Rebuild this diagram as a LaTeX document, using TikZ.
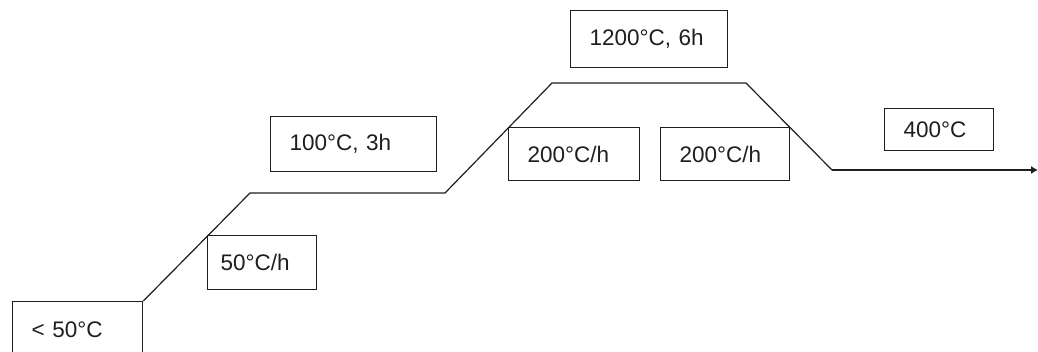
\documentclass[tikz,border=0pt]{standalone}
\usepackage{fontspec}
\setmainfont{Liberation Sans}
\usetikzlibrary{arrows.meta}
\definecolor{ink}{RGB}{30,30,30}
\tikzset{
  lbl/.style={draw=ink, line width=1.3pt, anchor=north west, align=left,
    inner ysep=0pt, inner xsep=19pt, text=ink,
    font=\fontsize{22.5}{26}\selectfont},
  profile/.style={draw=ink, line width=1.2pt, line join=miter}
}
\begin{document}
\begin{tikzpicture}[x=1pt, y=-1pt]
  \useasboundingbox (0,0) rectangle (1038,351);

  % temperature labels and ramp rates
  \node[lbl, minimum height=60pt, text width=92pt] (b0) at (12,301) {\raisebox{4pt}{< 50°C}};
  \node[lbl, minimum height=54pt, inner xsep=13pt, text width=83pt] (b1) at (207,235) {50°C/h};
  \node[lbl, minimum height=55pt, text width=128pt] (b2) at (270,116) {100°C, 3h};
  \node[lbl, minimum height=57pt, text width=119pt] (b3) at (570,10) {1200°C, 6h};
  \node[lbl, minimum height=53pt, text width=93pt] (b4) at (508,127) {200°C/h};
  \node[lbl, minimum height=53pt, text width=91pt] (b5) at (660,127) {200°C/h};
  \node[lbl, minimum height=42pt, text width=71pt] (b6) at (884,108) {400°C};

  % corners of the firing profile
  \coordinate (p1) at (250,193);
  \coordinate (p2) at (445,193);
  \coordinate (p3) at (552,83);
  \coordinate (p4) at (746,83);
  \coordinate (p5) at (832,170);
  \coordinate (p6) at (1038,170);

  \draw[profile] (b0.north east) -- (p1) -- (p2) -- (p3) -- (p4) -- (p5);
  \draw[profile, -{Latex[length=7pt, width=8pt]}] (p5) -- (p6);
\end{tikzpicture}
\end{document}
